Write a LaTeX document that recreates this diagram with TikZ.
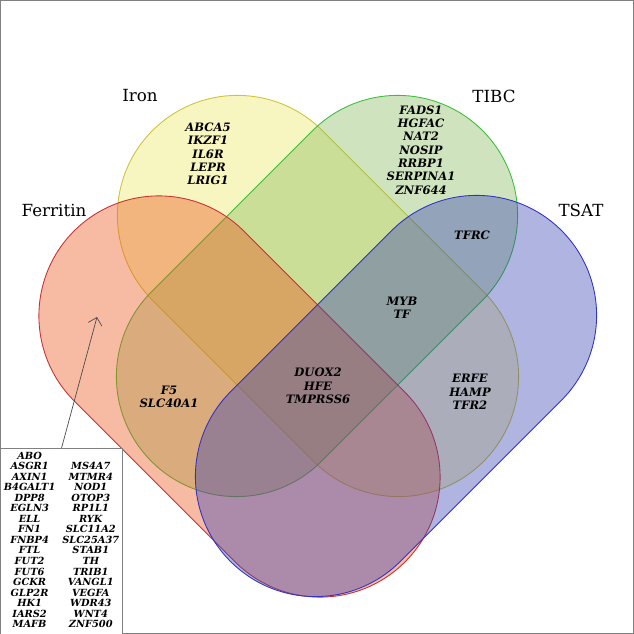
\documentclass[tikz,border=0pt]{standalone}
\usepackage{fontspec}
\setmainfont{DejaVu Serif}
\usetikzlibrary{positioning,arrows.meta}
\definecolor{ironfill}{RGB}{237,232,97}
\definecolor{tibcfill}{RGB}{135,187,92}
\definecolor{ferrfill}{RGB}{235,85,28}
\definecolor{tsatfill}{RGB}{57,67,177}
\definecolor{ironline}{RGB}{205,195,60}
\definecolor{tibcline}{RGB}{60,190,60}
\definecolor{ferrline}{RGB}{200,50,50}
\definecolor{tsatline}{RGB}{50,50,200}
\tikzset{
setlabel/.style={font=\fontsize{9.5}{10}\selectfont},
genes/.style={align=center,font=\fontsize{6.6}{7.6}\selectfont\bfseries\itshape},
blob/.style={fill opacity=0.4,draw opacity=1,line width=0.5pt,rounded corners=2.4cm}
}
\begin{document}
\begin{tikzpicture}[x=0.02cm,y=0.02cm]
\useasboundingbox (0,0) rectangle (634,634);
\draw[gray,line width=0.5pt] (0.5,0.5) rectangle (633.5,633.5);
% the four sets
\begin{scope}[shift={(318,338)},rotate=-45]
\draw[blob,fill=ironfill,draw=ironline] (-234,-120) rectangle (234,120);
\end{scope}
\begin{scope}[shift={(317,338)},rotate=45]
\draw[blob,fill=tibcfill,draw=tibcline] (-234,-120) rectangle (234,120);
\end{scope}
\begin{scope}[shift={(239.5,237.5)},rotate=-45]
\draw[blob,fill=ferrfill,draw=ferrline] (-234,-120) rectangle (234,120);
\end{scope}
\begin{scope}[shift={(396,238)},rotate=45]
\draw[blob,fill=tsatfill,draw=tsatline] (-234,-120) rectangle (234,120);
\end{scope}
% set names
\node[setlabel] (iron) at (140,538) {Iron};
\node[setlabel] (tibc) at (494,538) {TIBC};
\node[setlabel] (ferritin) at (54,424) {Ferritin};
\node[setlabel] (tsat) at (581,424) {TSAT};
% gene groups
\node[genes] (irononly) at (208,480) {ABCA5\\IKZF1\\IL6R\\LEPR\\LRIG1};
\node[genes] (tibconly) at (421,484) {FADS1\\HGFAC\\NAT2\\NOSIP\\RRBP1\\SERPINA1\\ZNF644};
\node[genes] (tibctsat) at (472,399) {TFRC};
\node[genes] (threeway) at (402,326) {MYB\\TF};
\node[genes] (allfour) at (318,248) {DUOX2\\HFE\\TMPRSS6};
\node[genes] (ferrtibc) at (169,237) {F5\\SLC40A1};
\node[genes] (irontsat) at (470,242) {ERFE\\HAMP\\TFR2};
% ferritin only
\node[draw=gray,fill=white,anchor=north west,inner sep=0pt,minimum width=2.3cm,minimum height=3.72cm,
font=\fontsize{5.6}{6}\selectfont\bfseries\itshape] (genebox) at (0,186) {%
\renewcommand{\arraystretch}{1}\setlength{\tabcolsep}{2pt}%
\begin{tabular}{cc}
ABO & \\ ASGR1 & MS4A7\\ AXIN1 & MTMR4\\ B4GALT1 & NOD1\\ DPP8 & OTOP3\\
EGLN3 & RP1L1\\ ELL & RYK\\ FN1 & SLC11A2\\ FNBP4 & SLC25A37\\ FTL & STAB1\\
FUT2 & TH\\ FUT6 & TRIB1\\ GCKR & VANGL1\\ GLP2R & VEGFA\\ HK1 & WDR43\\
IARS2 & WNT4\\ MAFB & ZNF500
\end{tabular}};
\coordinate (ferrpoint) at (97,317);
\draw[-{Straight Barb[length=4pt]},gray!60!black,line width=0.4pt] (genebox.north) -- (ferrpoint);
\end{tikzpicture}
\end{document}
